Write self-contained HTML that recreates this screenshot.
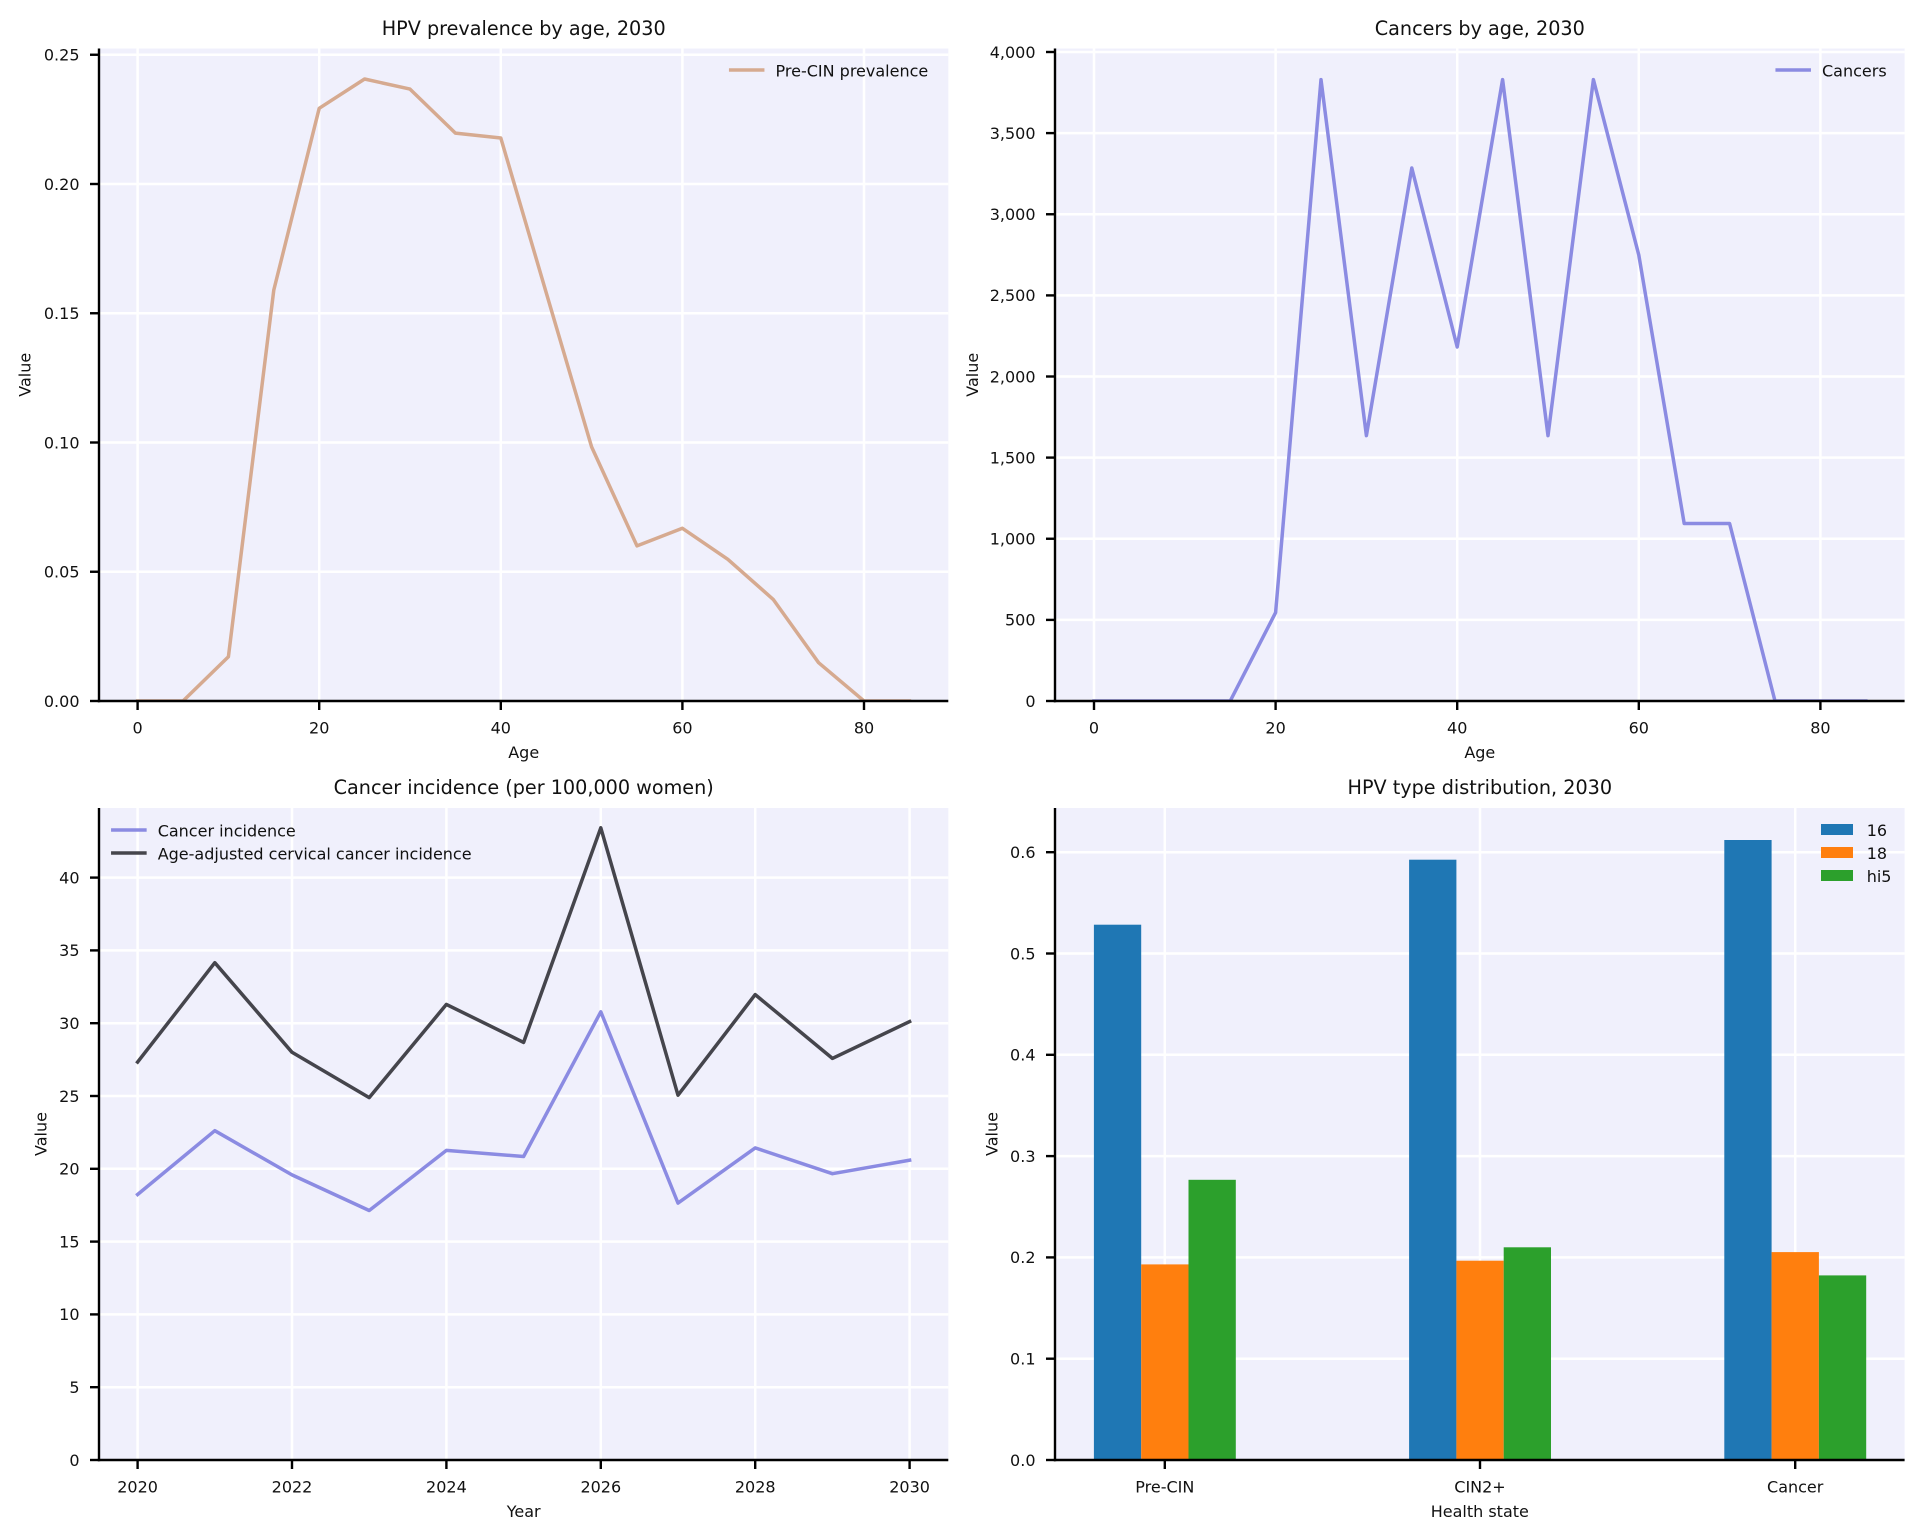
<!DOCTYPE html>
<html>
<head>
<meta charset="utf-8">
<style>
html,body{margin:0;padding:0;background:#fff;}
svg{display:block;}
text{font-family:"DejaVu Sans","Liberation Sans",sans-serif;fill:#111;}
.tk{font-size:16px;}
.lg{font-size:16px;}
.ti{font-size:19.2px;}
.lb{font-size:16px;}
.grid line{stroke:#fff;stroke-width:2.5;}
.ax line.sp{stroke:#000;stroke-width:2.4;}
.tick line{stroke:#000;stroke-width:2.4;}
</style>
</head>
<body>
<svg width="1923" height="1539" viewBox="0 0 1923 1539" xmlns="http://www.w3.org/2000/svg">
<defs>
  <clipPath id="c1"><rect x="99" y="48.5" width="849.3" height="652.5"/></clipPath>
  <clipPath id="c2"><rect x="1055" y="48.5" width="849.6" height="652.5"/></clipPath>
  <clipPath id="c3"><rect x="99" y="808" width="849.3" height="652"/></clipPath>
  <clipPath id="c4"><rect x="1055" y="808" width="849.6" height="652"/></clipPath>
</defs>
<rect width="1923" height="1539" fill="#fff"/>

<!-- ================= TOP LEFT ================= -->
<rect x="99" y="48.5" width="849.3" height="652.5" fill="#f0f0fc"/>
<g class="grid">
  <line x1="137.6" y1="48.5" x2="137.6" y2="701"/>
  <line x1="319.2" y1="48.5" x2="319.2" y2="701"/>
  <line x1="500.8" y1="48.5" x2="500.8" y2="701"/>
  <line x1="682.4" y1="48.5" x2="682.4" y2="701"/>
  <line x1="864" y1="48.5" x2="864" y2="701"/>
  <line x1="99" y1="571.75" x2="948.3" y2="571.75"/>
  <line x1="99" y1="442.5" x2="948.3" y2="442.5"/>
  <line x1="99" y1="313.25" x2="948.3" y2="313.25"/>
  <line x1="99" y1="184" x2="948.3" y2="184"/>
  <line x1="99" y1="54.75" x2="948.3" y2="54.75"/>
</g>
<polyline clip-path="url(#c1)" fill="none" stroke="#d6aa90" stroke-width="3.5" stroke-linejoin="round" stroke-linecap="square"
 points="137.6,701 183,701 228.4,656.8 273.8,290 319.2,108.3 364.6,79 410,89.1 455.4,133.1 500.8,138 546.2,292.6 591.6,446.9 637,545.9 682.4,528.3 727.8,559.3 773.2,599.4 818.6,662.7 864,701 909.4,701"/>
<g class="ax">
  <line class="sp" x1="99" y1="48.5" x2="99" y2="702.2"/>
  <line class="sp" x1="97.8" y1="701" x2="948.3" y2="701"/>
</g>
<g class="tick">
  <line x1="90" y1="701" x2="99" y2="701"/>
  <line x1="90" y1="571.75" x2="99" y2="571.75"/>
  <line x1="90" y1="442.5" x2="99" y2="442.5"/>
  <line x1="90" y1="313.25" x2="99" y2="313.25"/>
  <line x1="90" y1="184" x2="99" y2="184"/>
  <line x1="90" y1="54.75" x2="99" y2="54.75"/>
  <line x1="137.6" y1="701" x2="137.6" y2="710"/>
  <line x1="319.2" y1="701" x2="319.2" y2="710"/>
  <line x1="500.8" y1="701" x2="500.8" y2="710"/>
  <line x1="682.4" y1="701" x2="682.4" y2="710"/>
  <line x1="864" y1="701" x2="864" y2="710"/>
</g>
<g class="tk" text-anchor="end">
  <text x="79.5" y="706.8">0.00</text>
  <text x="79.5" y="577.5">0.05</text>
  <text x="79.5" y="448.3">0.10</text>
  <text x="79.5" y="319">0.15</text>
  <text x="79.5" y="189.8">0.20</text>
  <text x="79.5" y="60.5">0.25</text>
</g>
<g class="tk" text-anchor="middle">
  <text x="137.6" y="733.5">0</text>
  <text x="319.2" y="733.5">20</text>
  <text x="500.8" y="733.5">40</text>
  <text x="682.4" y="733.5">60</text>
  <text x="864" y="733.5">80</text>
</g>
<text class="ti" x="523.7" y="35" text-anchor="middle">HPV prevalence by age, 2030</text>
<text class="lb" x="523.7" y="758" text-anchor="middle">Age</text>
<text class="lb" text-anchor="middle" transform="translate(30.3,374.75) rotate(-90)">Value</text>
<line x1="730.7" y1="70" x2="762.7" y2="70" stroke="#d6aa90" stroke-width="3.5" stroke-linecap="square"/>
<text class="lg" x="775.5" y="76.3">Pre-CIN prevalence</text>

<!-- ================= TOP RIGHT ================= -->
<rect x="1055" y="48.5" width="849.6" height="652.5" fill="#f0f0fc"/>
<g class="grid">
  <line x1="1094" y1="48.5" x2="1094" y2="701"/>
  <line x1="1275.6" y1="48.5" x2="1275.6" y2="701"/>
  <line x1="1457.2" y1="48.5" x2="1457.2" y2="701"/>
  <line x1="1638.8" y1="48.5" x2="1638.8" y2="701"/>
  <line x1="1820.4" y1="48.5" x2="1820.4" y2="701"/>
  <line x1="1055" y1="619.9" x2="1904.6" y2="619.9"/>
  <line x1="1055" y1="538.75" x2="1904.6" y2="538.75"/>
  <line x1="1055" y1="457.6" x2="1904.6" y2="457.6"/>
  <line x1="1055" y1="376.5" x2="1904.6" y2="376.5"/>
  <line x1="1055" y1="295.4" x2="1904.6" y2="295.4"/>
  <line x1="1055" y1="214.25" x2="1904.6" y2="214.25"/>
  <line x1="1055" y1="133.1" x2="1904.6" y2="133.1"/>
  <line x1="1055" y1="52" x2="1904.6" y2="52"/>
</g>
<polyline clip-path="url(#c2)" fill="none" stroke="#8b8be2" stroke-width="3.5" stroke-linejoin="round" stroke-linecap="square"
 points="1094,701 1139.4,701 1184.8,701 1230.2,701 1275.6,612.6 1321,79.6 1366.4,435.6 1411.8,168 1457.2,347 1502.6,79.6 1548,435.6 1593.4,79.6 1638.8,255.1 1684.2,523.5 1729.6,523.5 1775,701 1820.4,701 1865.8,701"/>
<g class="ax">
  <line class="sp" x1="1055" y1="48.5" x2="1055" y2="702.2"/>
  <line class="sp" x1="1053.8" y1="701" x2="1904.6" y2="701"/>
</g>
<g class="tick">
  <line x1="1046" y1="701" x2="1055" y2="701"/>
  <line x1="1046" y1="619.9" x2="1055" y2="619.9"/>
  <line x1="1046" y1="538.75" x2="1055" y2="538.75"/>
  <line x1="1046" y1="457.6" x2="1055" y2="457.6"/>
  <line x1="1046" y1="376.5" x2="1055" y2="376.5"/>
  <line x1="1046" y1="295.4" x2="1055" y2="295.4"/>
  <line x1="1046" y1="214.25" x2="1055" y2="214.25"/>
  <line x1="1046" y1="133.1" x2="1055" y2="133.1"/>
  <line x1="1046" y1="52" x2="1055" y2="52"/>
  <line x1="1094" y1="701" x2="1094" y2="710"/>
  <line x1="1275.6" y1="701" x2="1275.6" y2="710"/>
  <line x1="1457.2" y1="701" x2="1457.2" y2="710"/>
  <line x1="1638.8" y1="701" x2="1638.8" y2="710"/>
  <line x1="1820.4" y1="701" x2="1820.4" y2="710"/>
</g>
<g class="tk" text-anchor="end">
  <text x="1035.5" y="706.8">0</text>
  <text x="1035.5" y="625.7">500</text>
  <text x="1035.5" y="544.5">1,000</text>
  <text x="1035.5" y="463.4">1,500</text>
  <text x="1035.5" y="382.3">2,000</text>
  <text x="1035.5" y="301.2">2,500</text>
  <text x="1035.5" y="220">3,000</text>
  <text x="1035.5" y="138.9">3,500</text>
  <text x="1035.5" y="57.8">4,000</text>
</g>
<g class="tk" text-anchor="middle">
  <text x="1094" y="733.5">0</text>
  <text x="1275.6" y="733.5">20</text>
  <text x="1457.2" y="733.5">40</text>
  <text x="1638.8" y="733.5">60</text>
  <text x="1820.4" y="733.5">80</text>
</g>
<text class="ti" x="1479.8" y="35" text-anchor="middle">Cancers by age, 2030</text>
<text class="lb" x="1479.8" y="758" text-anchor="middle">Age</text>
<text class="lb" text-anchor="middle" transform="translate(977.8,374.75) rotate(-90)">Value</text>
<line x1="1777.2" y1="70" x2="1809.2" y2="70" stroke="#8b8be2" stroke-width="3.5" stroke-linecap="square"/>
<text class="lg" x="1822" y="76.3">Cancers</text>

<!-- ================= BOTTOM LEFT ================= -->
<rect x="99" y="808" width="849.3" height="652" fill="#f0f0fc"/>
<g class="grid">
  <line x1="137.6" y1="808" x2="137.6" y2="1460"/>
  <line x1="292" y1="808" x2="292" y2="1460"/>
  <line x1="446.4" y1="808" x2="446.4" y2="1460"/>
  <line x1="600.8" y1="808" x2="600.8" y2="1460"/>
  <line x1="755.2" y1="808" x2="755.2" y2="1460"/>
  <line x1="909.6" y1="808" x2="909.6" y2="1460"/>
  <line x1="99" y1="1387.2" x2="948.3" y2="1387.2"/>
  <line x1="99" y1="1314.4" x2="948.3" y2="1314.4"/>
  <line x1="99" y1="1241.6" x2="948.3" y2="1241.6"/>
  <line x1="99" y1="1168.8" x2="948.3" y2="1168.8"/>
  <line x1="99" y1="1096" x2="948.3" y2="1096"/>
  <line x1="99" y1="1023.2" x2="948.3" y2="1023.2"/>
  <line x1="99" y1="950.4" x2="948.3" y2="950.4"/>
  <line x1="99" y1="877.6" x2="948.3" y2="877.6"/>
</g>
<polyline clip-path="url(#c3)" fill="none" stroke="#8b8be2" stroke-width="3.5" stroke-linejoin="round" stroke-linecap="square"
 points="137.6,1194.5 214.8,1130.7 292,1174.9 369.2,1210.5 446.4,1150.4 523.6,1156.5 600.8,1011.8 678,1203.1 755.2,1147.9 832.4,1173.7 909.6,1160.2"/>
<polyline clip-path="url(#c3)" fill="none" stroke="#45454c" stroke-width="3.5" stroke-linejoin="round" stroke-linecap="square"
 points="137.6,1062.1 214.8,962.7 292,1052.3 369.2,1097.6 446.4,1004.4 523.6,1042.4 600.8,827.8 678,1095.2 755.2,994.6 832.4,1058.4 909.6,1021.6"/>
<g class="ax">
  <line class="sp" x1="99" y1="808" x2="99" y2="1461.2"/>
  <line class="sp" x1="97.8" y1="1460" x2="948.3" y2="1460"/>
</g>
<g class="tick">
  <line x1="90" y1="1460" x2="99" y2="1460"/>
  <line x1="90" y1="1387.2" x2="99" y2="1387.2"/>
  <line x1="90" y1="1314.4" x2="99" y2="1314.4"/>
  <line x1="90" y1="1241.6" x2="99" y2="1241.6"/>
  <line x1="90" y1="1168.8" x2="99" y2="1168.8"/>
  <line x1="90" y1="1096" x2="99" y2="1096"/>
  <line x1="90" y1="1023.2" x2="99" y2="1023.2"/>
  <line x1="90" y1="950.4" x2="99" y2="950.4"/>
  <line x1="90" y1="877.6" x2="99" y2="877.6"/>
  <line x1="137.6" y1="1460" x2="137.6" y2="1469"/>
  <line x1="292" y1="1460" x2="292" y2="1469"/>
  <line x1="446.4" y1="1460" x2="446.4" y2="1469"/>
  <line x1="600.8" y1="1460" x2="600.8" y2="1469"/>
  <line x1="755.2" y1="1460" x2="755.2" y2="1469"/>
  <line x1="909.6" y1="1460" x2="909.6" y2="1469"/>
</g>
<g class="tk" text-anchor="end">
  <text x="79.5" y="1465.8">0</text>
  <text x="79.5" y="1393">5</text>
  <text x="79.5" y="1320.2">10</text>
  <text x="79.5" y="1247.4">15</text>
  <text x="79.5" y="1174.6">20</text>
  <text x="79.5" y="1101.8">25</text>
  <text x="79.5" y="1029">30</text>
  <text x="79.5" y="956.2">35</text>
  <text x="79.5" y="883.4">40</text>
</g>
<g class="tk" text-anchor="middle">
  <text x="137.6" y="1492.5">2020</text>
  <text x="292" y="1492.5">2022</text>
  <text x="446.4" y="1492.5">2024</text>
  <text x="600.8" y="1492.5">2026</text>
  <text x="755.2" y="1492.5">2028</text>
  <text x="909.6" y="1492.5">2030</text>
</g>
<text class="ti" x="523.7" y="794" text-anchor="middle">Cancer incidence (per 100,000 women)</text>
<text class="lb" x="523.7" y="1517" text-anchor="middle">Year</text>
<text class="lb" text-anchor="middle" transform="translate(46.3,1134) rotate(-90)">Value</text>
<line x1="112.8" y1="830" x2="144.9" y2="830" stroke="#8b8be2" stroke-width="3.5" stroke-linecap="square"/>
<text class="lg" x="157.7" y="836.3">Cancer incidence</text>
<line x1="112.8" y1="853" x2="144.9" y2="853" stroke="#45454c" stroke-width="3.5" stroke-linecap="square"/>
<text class="lg" x="157.7" y="859.3">Age-adjusted cervical cancer incidence</text>

<!-- ================= BOTTOM RIGHT ================= -->
<rect x="1055" y="808" width="849.6" height="652" fill="#f0f0fc"/>
<g class="grid">
  <line x1="1164.8" y1="808" x2="1164.8" y2="1460"/>
  <line x1="1480" y1="808" x2="1480" y2="1460"/>
  <line x1="1795.2" y1="808" x2="1795.2" y2="1460"/>
  <line x1="1055" y1="1358.7" x2="1904.6" y2="1358.7"/>
  <line x1="1055" y1="1257.4" x2="1904.6" y2="1257.4"/>
  <line x1="1055" y1="1156.1" x2="1904.6" y2="1156.1"/>
  <line x1="1055" y1="1054.8" x2="1904.6" y2="1054.8"/>
  <line x1="1055" y1="953.5" x2="1904.6" y2="953.5"/>
  <line x1="1055" y1="852.2" x2="1904.6" y2="852.2"/>
</g>
<g clip-path="url(#c4)">
  <rect x="1093.9" y="924.7" width="47.3" height="535.3" fill="#1f77b4"/>
  <rect x="1141.2" y="1264.4" width="47.3" height="195.6" fill="#ff7f0e"/>
  <rect x="1188.5" y="1179.8" width="47.3" height="280.2" fill="#2ca02c"/>
  <rect x="1409.1" y="859.7" width="47.3" height="600.3" fill="#1f77b4"/>
  <rect x="1456.4" y="1260.7" width="47.3" height="199.3" fill="#ff7f0e"/>
  <rect x="1503.7" y="1247.3" width="47.3" height="212.7" fill="#2ca02c"/>
  <rect x="1724.3" y="840" width="47.3" height="620" fill="#1f77b4"/>
  <rect x="1771.6" y="1252.1" width="47.3" height="207.9" fill="#ff7f0e"/>
  <rect x="1818.9" y="1275.4" width="47.3" height="184.6" fill="#2ca02c"/>
</g>
<g class="ax">
  <line class="sp" x1="1055" y1="808" x2="1055" y2="1461.2"/>
  <line class="sp" x1="1053.8" y1="1460" x2="1904.6" y2="1460"/>
</g>
<g class="tick">
  <line x1="1046" y1="1460" x2="1055" y2="1460"/>
  <line x1="1046" y1="1358.7" x2="1055" y2="1358.7"/>
  <line x1="1046" y1="1257.4" x2="1055" y2="1257.4"/>
  <line x1="1046" y1="1156.1" x2="1055" y2="1156.1"/>
  <line x1="1046" y1="1054.8" x2="1055" y2="1054.8"/>
  <line x1="1046" y1="953.5" x2="1055" y2="953.5"/>
  <line x1="1046" y1="852.2" x2="1055" y2="852.2"/>
  <line x1="1164.8" y1="1460" x2="1164.8" y2="1469"/>
  <line x1="1480" y1="1460" x2="1480" y2="1469"/>
  <line x1="1795.2" y1="1460" x2="1795.2" y2="1469"/>
</g>
<g class="tk" text-anchor="end">
  <text x="1035.5" y="1465.8">0.0</text>
  <text x="1035.5" y="1364.5">0.1</text>
  <text x="1035.5" y="1263.2">0.2</text>
  <text x="1035.5" y="1161.9">0.3</text>
  <text x="1035.5" y="1060.6">0.4</text>
  <text x="1035.5" y="959.3">0.5</text>
  <text x="1035.5" y="858">0.6</text>
</g>
<g class="tk" text-anchor="middle">
  <text x="1164.8" y="1492.5">Pre-CIN</text>
  <text x="1480" y="1492.5">CIN2+</text>
  <text x="1795.2" y="1492.5">Cancer</text>
</g>
<text class="ti" x="1479.8" y="794" text-anchor="middle">HPV type distribution, 2030</text>
<text class="lb" x="1479.8" y="1517" text-anchor="middle">Health state</text>
<text class="lb" text-anchor="middle" transform="translate(997.3,1134) rotate(-90)">Value</text>
<rect x="1821" y="824" width="32" height="11" fill="#1f77b4"/>
<text class="lg" x="1866.7" y="836">16</text>
<rect x="1821" y="847" width="32" height="11" fill="#ff7f0e"/>
<text class="lg" x="1866.7" y="859">18</text>
<rect x="1821" y="870" width="32" height="11" fill="#2ca02c"/>
<text class="lg" x="1866.7" y="882">hi5</text>
</svg>
</body>
</html>
